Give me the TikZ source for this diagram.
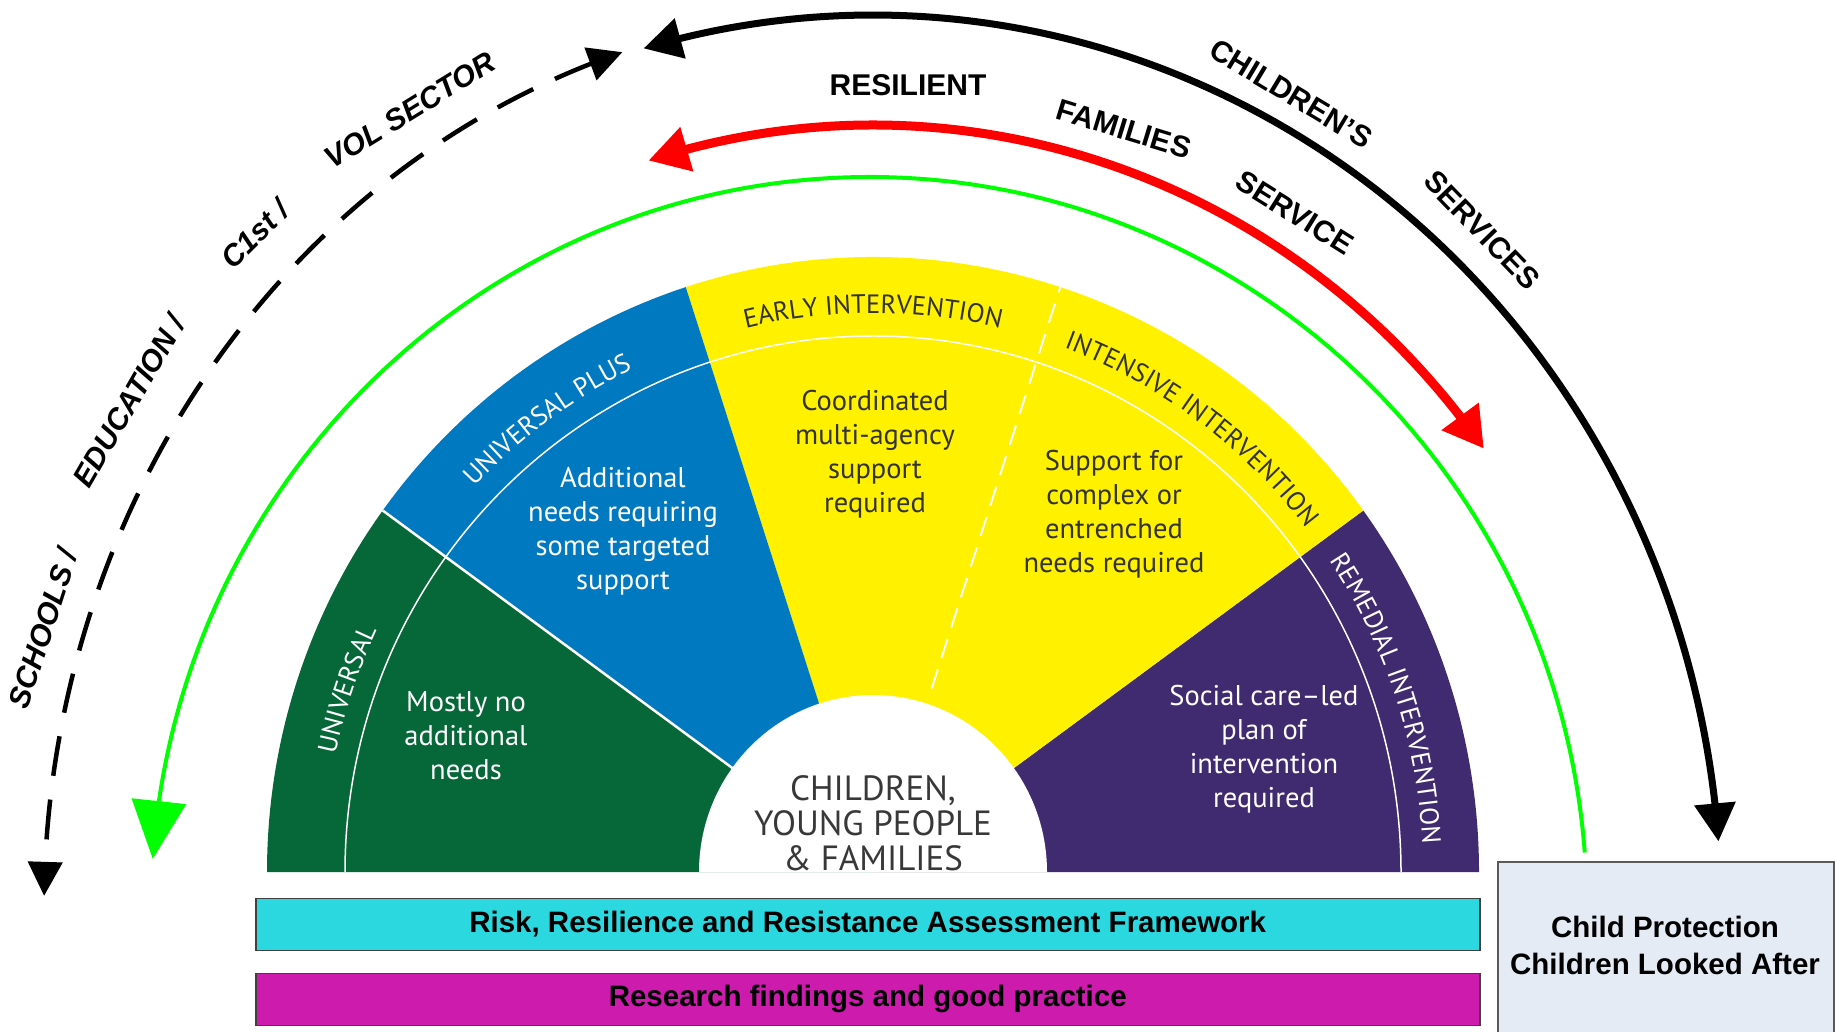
\documentclass[tikz,border=0pt]{standalone}
\usepackage{fontspec}
\newfontfamily\myriad{PT Sans}
\newfontfamily\arial{Liberation Sans}
\usetikzlibrary{arrows.meta,bending,decorations.text}
\definecolor{fgreen}{HTML}{066838}
\definecolor{fblue}{HTML}{0079C1}
\definecolor{fyellow}{HTML}{FFF100}
\definecolor{fpurple}{HTML}{402A70}
\definecolor{fcyan}{HTML}{2CD8DF}
\definecolor{fmag}{HTML}{CC1BAD}
\definecolor{fgray}{HTML}{E5EBF5}
\definecolor{ftext}{HTML}{333333}
\definecolor{lgreen}{HTML}{00FF00}
\newcommand\bandfont{\myriad\fontsize{26.5}{30}\selectfont}
\newcommand\bandlabel[3]{%
  \path[decorate,decoration={text along path,text align=center,text color=#3,
     text={|\bandfont|#2}}]
     ({#1+40}:550 and 559) arc[start angle={#1+40}, end angle={#1-40}, x radius=550, y radius=559];}
\begin{document}
\begin{tikzpicture}[x=1pt,y=1pt,
  innertxt/.style={font=\myriad\fontsize{28.5}{34}\selectfont, align=center, inner sep=0pt},
  outlab/.style={font=\arial\bfseries\fontsize{30}{34}\selectfont, inner sep=0pt, text=black},
  itlab/.style={font=\arial\bfseries\itshape\fontsize{30}{34}\selectfont, inner sep=0pt, text=black},
  barbox/.style={draw=black!75, line width=1.5pt, minimum width=1224pt, minimum height=52pt, inner sep=0pt,
     font=\arial\bfseries\fontsize{29.5}{32}\selectfont, text=black},
]
\path[use as bounding box] (0,0) rectangle (1835,1031);
\clip (0,0) rectangle (1835,1031);

% ---------- fan ----------
\begin{scope}[shift={(873,159)}]
  \fill[fpurple] (0,0) -- (0:606 and 615) arc[start angle=0,end angle=36,x radius=606,y radius=615] -- cycle;
  \fill[fyellow] (0,0) -- (36:606 and 615) arc[start angle=36,end angle=108,x radius=606,y radius=615] -- cycle;
  \fill[fblue] (0,0) -- (108:606 and 615) arc[start angle=108,end angle=144,x radius=606,y radius=615] -- cycle;
  \fill[fgreen] (0,0) -- (144:606 and 615) arc[start angle=144,end angle=180,x radius=606,y radius=615] -- cycle;
  \draw[white, line width=1.5pt] (528,0) arc[start angle=0,end angle=180,x radius=528,y radius=536];
  \draw[white, line width=2.5pt] (144:170 and 173) -- (144:606 and 615);
  \draw[white, line width=2pt, dash pattern=on 20pt off 12pt] (72:190 and 193) -- (72:606 and 615);
  \fill[white] (174,0) arc[start angle=0,end angle=180,x radius=174,y radius=177] -- cycle;
  \bandlabel{161}{UNIVERSAL}{white}
  \bandlabel{126}{UNIVERSAL PLUS}{white}
  \bandlabel{90}{EARLY INTERVENTION}{ftext}
  \bandlabel{54}{INTENSIVE INTERVENTION}{ftext}
  \bandlabel{18.5}{REMEDIAL INTERVENTION}{white}
\end{scope}

\node[innertxt, text=white] (mostly) at (466,295) {Mostly no\\additional\\needs};
\node[innertxt, text=white] (addl) at (623,500) {Additional\\needs requiring\\some targeted\\support};
\node[innertxt, text=ftext] (coord) at (875,577) {Coordinated\\multi-agency\\support\\required};
\node[innertxt, text=ftext] (complex) at (1114,517) {Support for\\complex or\\entrenched\\needs required};
\node[innertxt, text=white] (social) at (1264,282) {Social care–led\\plan of\\intervention\\required};
\node[font=\myriad\fontsize{35}{35}\selectfont, align=center, inner sep=0pt, text=black!78] (cyp) at (873,208)
  {CHILDREN,\\YOUNG PEOPLE\\\& FAMILIES};

% ---------- outer arcs ----------
\draw[line width=4pt, lgreen, -{Triangle[length=58pt,width=54pt]}]
  ([shift={(869,121)}]4.5:718 and 733) arc[start angle=4.5,end angle=176,x radius=718,y radius=733];
\draw[line width=9pt, red, {Triangle[length=40pt,width=44pt]}-{Triangle[length=40pt,width=44pt]}]
  ([shift={(873,121)}]107.3:755 and 785) arc[start angle=107.3,end angle=36,x radius=755,y radius=785];
\draw[line width=7pt, black, {Triangle[length=38pt,width=40pt]}-{Triangle[length=38pt,width=40pt]}]
  ([shift={(873,121)}]105.7:848 and 895) arc[start angle=105.7,end angle=4.4,x radius=848,y radius=895];
\draw[line width=4.5pt, black, dash pattern=on 40pt off 24pt, {Triangle[length=34pt,width=34pt]}-{Triangle[length=34pt,width=34pt]}]
  ([shift={(873,121)}]107.6:829 and 900) arc[start angle=107.6,end angle=179.1,x radius=829,y radius=900];

% ---------- outer labels ----------
\node[outlab] (resilient) at (908,946) {RESILIENT};
\node[outlab, rotate=-17] (families) at (1124,902) {FAMILIES};
\node[outlab, rotate=-32] (service) at (1295,818) {SERVICE};
\node[outlab, rotate=-31] (childrens) at (1291,937) {CHILDREN’S};
\node[outlab, rotate=-46] (services) at (1482,801) {SERVICES};
\node[itlab, rotate=31.6] (vol) at (410,921) {VOL SECTOR};
\node[itlab, rotate=45] (c1st) at (255,797) {C1st /};
\node[itlab, rotate=60] (edu) at (129,630) {EDUCATION /};
\node[itlab, rotate=72] (schools) at (43,402) {SCHOOLS /};

% ---------- bottom bars ----------
\node[barbox, fill=fcyan, anchor=south west] (rrr) at (255,80) {Risk, Resilience and Resistance Assessment Framework};
\node[barbox, fill=fmag, anchor=south west] (research) at (255,5) {Research findings and good practice};
\node[draw=black!65, line width=1.5pt, fill=fgray, minimum width=336pt, minimum height=200pt, inner sep=0pt, anchor=north west] (cpbox) at (1497,170) {};
\node[font=\arial\bfseries\fontsize{29.5}{37}\selectfont, align=center, inner sep=0pt] (cptext) at (1665,86) {Child Protection\\Children Looked After};
\end{tikzpicture}
\end{document}
